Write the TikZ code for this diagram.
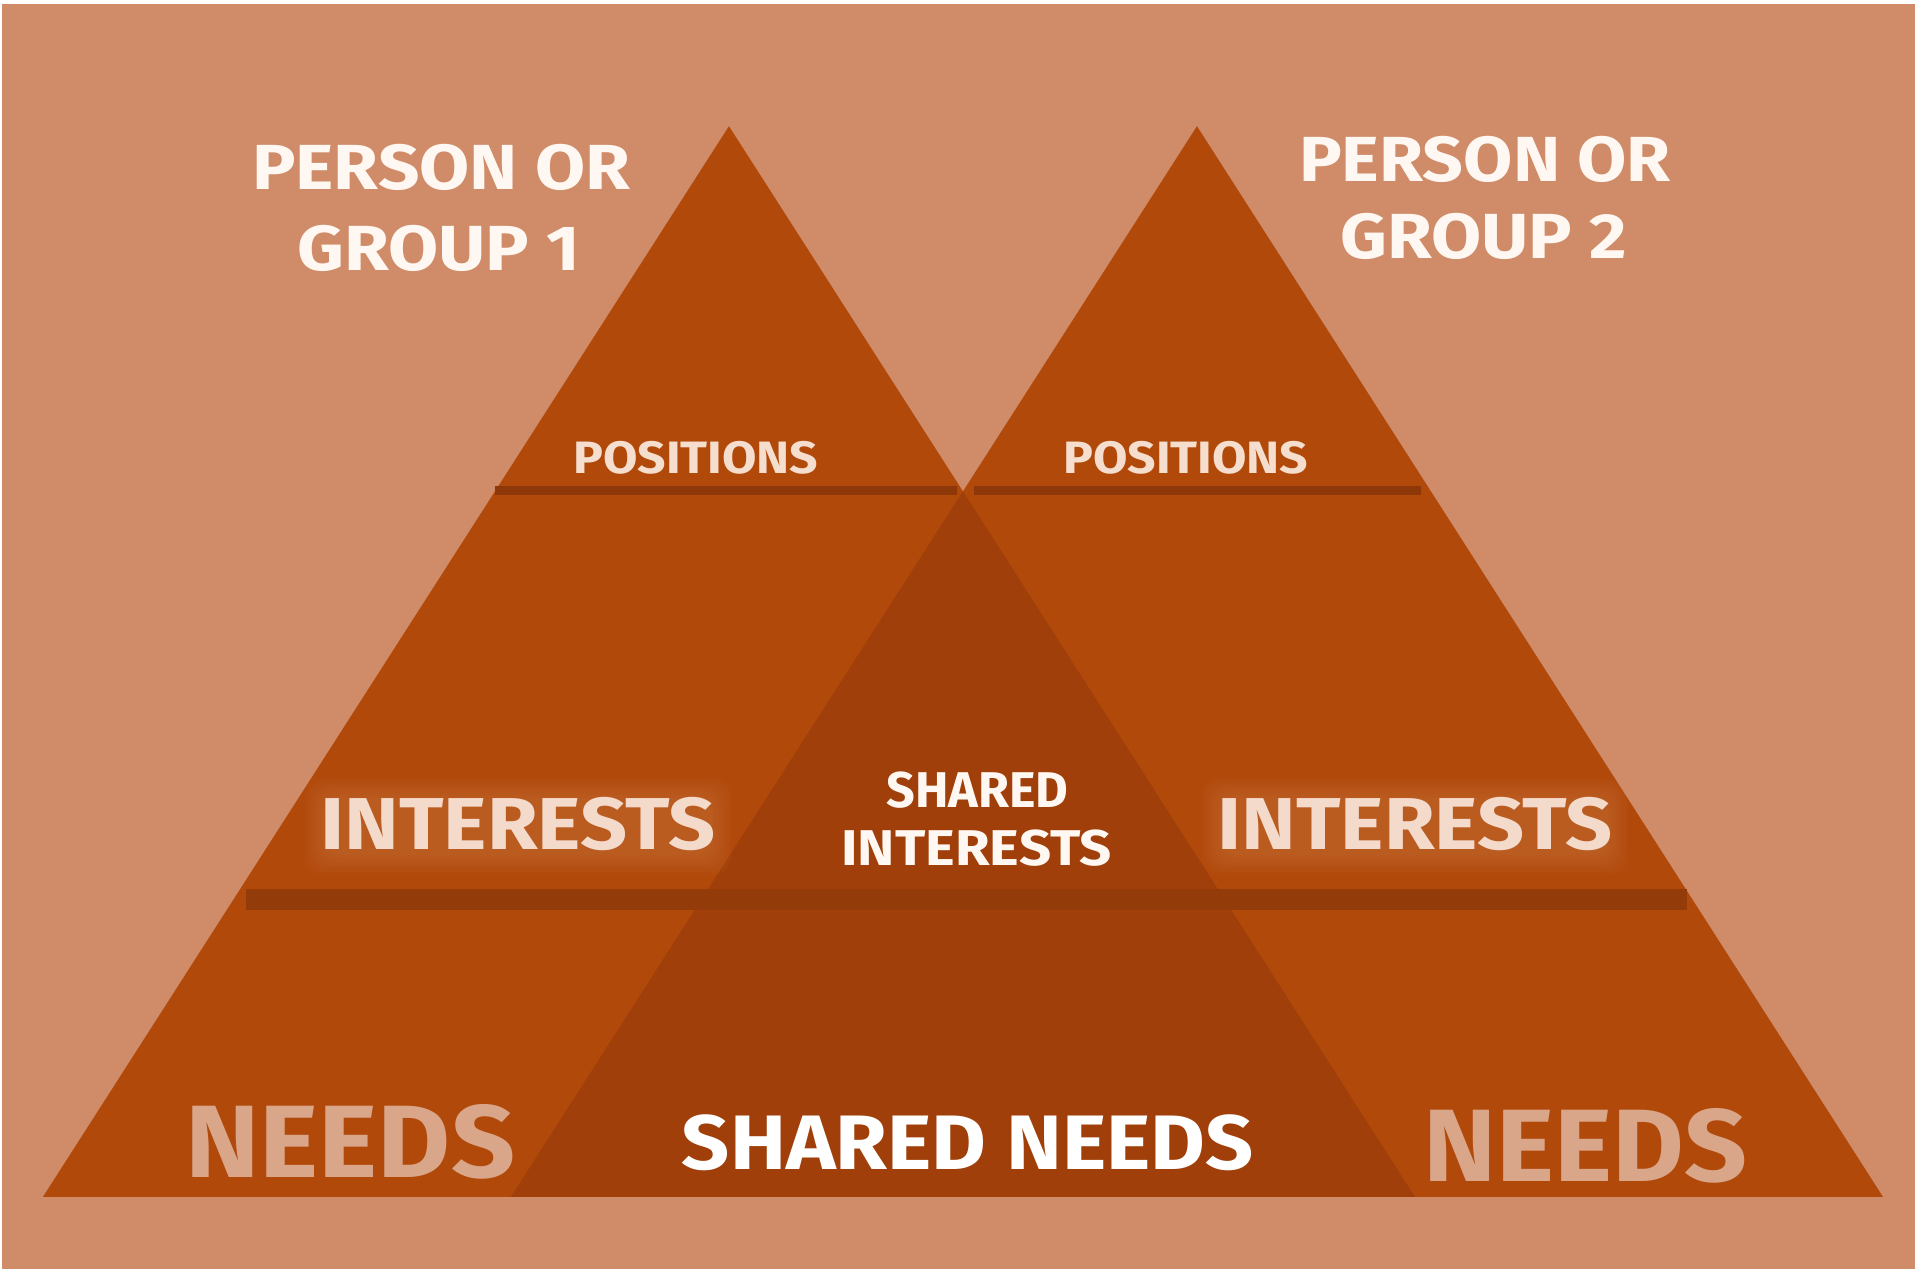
\documentclass[tikz,border=0pt]{standalone}
\usepackage{fontspec}
\setmainfont{Fira Sans}
\definecolor{bgc}{RGB}{208,139,104}
\definecolor{tric}{RGB}{177,73,10}
\definecolor{midc}{RGB}{160,63,9}
\definecolor{linec}{RGB}{142,56,10}
\definecolor{barc}{RGB}{148,59,10}
\definecolor{whitetxt}{RGB}{255,248,242}
\definecolor{posc}{RGB}{245,222,205}
\definecolor{intc}{RGB}{243,218,202}
\definecolor{needc}{RGB}{218,166,138}
\definecolor{glowc}{RGB}{232,150,105}
\newcommand{\stretchtxt}[2]{\scalebox{#1}[1]{#2}}
\begin{document}
\begin{tikzpicture}[x=1pt,y=-1pt,
  txt/.style={inner sep=0pt,font=\bfseries},
  title/.style={txt,text=whitetxt,font=\bfseries\fontsize{52}{56}\selectfont},
  postxt/.style={txt,text=posc,font=\bfseries\fontsize{37}{40}\selectfont},
  inttxt/.style={txt,text=intc,font=\bfseries\fontsize{60}{64}\selectfont},
  shtxt/.style={txt,text=whitetxt,font=\bfseries\fontsize{41}{44}\selectfont},
  needtxt/.style={txt,text=needc,font=\bfseries\fontsize{84}{88}\selectfont},
  shneedtxt/.style={txt,text=white,font=\bfseries\fontsize{63}{68}\selectfont},
  glowbox/.style={fill=glowc,fill opacity=0.035,rounded corners=14pt}]
\useasboundingbox (0,0) rectangle (1568,1039);
\fill[white] (0,0) rectangle (1568,1039);
\fill[bgc] (2,3) rectangle (1563,1036);
% triangles
\fill[tric] (595,103) -- (35,977) -- (1155,977) -- cycle;
\fill[tric] (977,103) -- (417,977) -- (1537,977) -- cycle;
\fill[midc] (786,401) -- (417,977) -- (1155,977) -- cycle;
% position lines
\fill[linec] (404,397) rectangle (781,404);
\fill[linec] (795,397) rectangle (1160,404);
% glow for interests
\foreach \r in {1,3,...,17}{
  \fill[glowbox] (266-\r,652-\r) rectangle (580+\r,697+\r);
  \fill[glowbox] (998-\r,652-\r) rectangle (1312+\r,697+\r);
}
% interests bar
\fill[barc] (201,726) rectangle (1377,743);
% texts
\node[title] (p1a) at (360,137) {\stretchtxt{1.14}{PERSON OR}};
\node[title] (p1b) at (358,203) {\stretchtxt{1.14}{GROUP 1}};
\node[title] (p2a) at (1212,130) {\stretchtxt{1.12}{PERSON OR}};
\node[title] (p2b) at (1211,193) {\stretchtxt{1.14}{GROUP 2}};
\node[postxt] (pos1) at (568,374) {\stretchtxt{1.1}{POSITIONS}};
\node[postxt] (pos2) at (968,374) {\stretchtxt{1.1}{POSITIONS}};
\node[inttxt] (int1) at (423,673) {\stretchtxt{1.12}{INTERESTS}};
\node[inttxt] (int2) at (1155,673) {\stretchtxt{1.12}{INTERESTS}};
\node[shtxt] (sh1) at (798,645) {SHARED};
\node[shtxt] (sh2) at (797,692) {\stretchtxt{1.12}{INTERESTS}};
\node[needtxt] (need1) at (286,932) {\stretchtxt{1.09}{NEEDS}};
\node[needtxt] (need2) at (1294,935) {\stretchtxt{1.07}{NEEDS}};
\node[shneedtxt] (shneed) at (790,933) {\stretchtxt{1.09}{SHARED NEEDS}};
\end{tikzpicture}
\end{document}
